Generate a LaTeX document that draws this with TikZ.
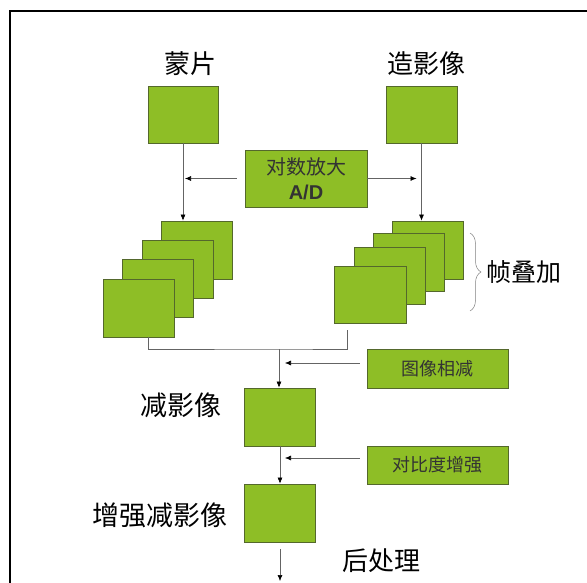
\documentclass[tikz,border=0pt]{standalone}
\usepackage{fontspec}
\newfontfamily\cjk{Noto Sans CJK SC}
\newfontfamily\lat{Liberation Sans}
\usepackage{tikz}
\usetikzlibrary{positioning, arrows.meta, decorations.pathreplacing}
\definecolor{boxgreen}{RGB}{142,190,38}
\definecolor{boxedge}{RGB}{84,104,44}
\definecolor{linegray}{RGB}{100,100,100}

\begin{document}
\begin{tikzpicture}[x=1pt, y=-1pt,
    img/.style={draw=boxedge, fill=boxgreen, line width=0.8pt, inner sep=0pt,
      minimum width=71pt, minimum height=58pt},
    opbox/.style={draw=boxedge, fill=boxgreen, line width=0.8pt, inner sep=0pt,
      minimum width=141pt, minimum height=39pt, text=black!80,
      font=\cjk\fontsize{18}{20}\selectfont},
    title/.style={font=\cjk\fontsize{26}{30}\selectfont},
    conn/.style={draw=linegray, line width=0.6pt},
    arr/.style={conn, -{Latex[length=6pt, width=5pt, color=black]}}]
    \useasboundingbox (0,0) rectangle (587,583);

    % frame round the figure
    \draw [line width=2pt] (10,583) -- (10,11) -- (587,11);

    % the two source images
    \node (mtitle) [title] at (190,64) {蒙片};
    \node (ctitle) [title] at (426,64) {造影像};
    \node (mask) [img, minimum width=70pt, minimum height=57pt] at (183,114.5) {};
    \node (contrast) [img, minimum height=57pt] at (421.5,114.5) {};

    % log amplifier and A/D
    \node (ad) [img, minimum width=122pt, minimum height=57pt, align=center,
      text=black!80, font=\fontsize{20}{25}\selectfont] at (306,178.5)
      {{\cjk 对数放大}\\{\lat\bfseries A/D}};

    % left stack of frames
    \node (lf1) [img] at (196.5,250) {};
    \node (lf2) [img] at (177.5,269) {};
    \node (lf3) [img] at (157.5,288) {};
    \node (lf4) [img] at (138.5,308) {};

    % right stack of frames
    \node (rf1) [img] at (427.5,250) {};
    \node (rf2) [img] at (408.5,262) {};
    \node (rf3) [img, minimum height=57pt] at (389.5,275.5) {};
    \node (rf4) [img, minimum width=72pt, minimum height=57pt] at (370,294.5) {};

    % brace and its label
    \draw [conn, draw=gray, line width=0.5pt, decorate, decoration={brace, amplitude=11pt}]
      (470,233) -- (470,311);
    \node (sum) [title, font=\cjk\fontsize{25}{30}\selectfont] at (524,272) {帧叠加};

    % arrows into the stacks
    \draw [arr] (mask.south) -- (mask.south |- lf1.north);
    \draw [arr] (contrast.south) -- (contrast.south |- rf1.north);
    \draw [arr, shorten <=8pt, shorten >=2pt] (ad.west) -- (mask.south |- ad.west);
    \draw [arr, shorten >=5pt] (ad.east) -- (contrast.south |- ad.east);

    % subtraction
    \coordinate (join) at (279,349);
    \coordinate (in1) at (279,363);
    \coordinate (in2) at (279,458);
    \node (op1) [opbox] at (437.5,368.5) {图像相减};
    \node (sub) [img] at (280,417) {};
    \node (stitle) [title, font=\cjk\fontsize{27}{30}\selectfont] at (181,405) {减影像};
    \draw [conn] ([xshift=9.5pt]lf4.south) |- (join)
      -| ([xshift=-23pt, yshift=-7pt]rf4.south);
    \draw [arr] (join) -- (join |- sub.north);
    \draw [arr, shorten <=7pt, shorten >=6pt] (op1.west |- in1) -- (in1);

    % contrast enhancement
    \node (op2) [opbox, minimum height=38pt] at (437.5,465) {对比度增强};
    \node (enh) [img] at (280,513) {};
    \node (etitle) [title, font=\cjk\fontsize{27}{30}\selectfont] at (160,515) {增强减影像};
    \draw [arr] (sub.south) -- (enh.north);
    \draw [arr, shorten <=7pt, shorten >=6pt] (op2.west |- in2) -- (in2);

    % post processing
    \coordinate (out) at (280,581);
    \node (ptitle) [title] at (381,561) {后处理};
    \draw [arr, shorten <=7pt] (enh.south) -- (out);

  \end{tikzpicture}
\end{document}
